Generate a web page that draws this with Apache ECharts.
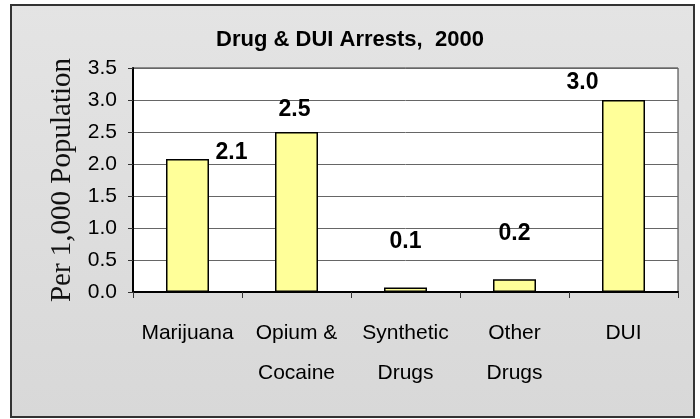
<!DOCTYPE html>
<html>
<head>
<meta charset="utf-8">
<script src="https://cdn.jsdelivr.net/npm/echarts@6/dist/echarts.min.js"></script>
<style>html,body{margin:0;padding:0;background:#fff}#c{width:700px;height:419px}</style>
</head>
<body>
<div id="c"></div>
<script>
const categories = ['Marijuana', 'Opium &\nCocaine', 'Synthetic\nDrugs', 'Other\nDrugs', 'DUI'];
const values = [2.08, 2.5, 0.07, 0.2, 3.0];
const yTicks = [0, 0.5, 1, 1.5, 2, 2.5, 3, 3.5];
const titleText = 'Drug & DUI Arrests,  2000';
const yName = 'Per 1,000 Population';

const narrow = '"Liberation Sans Narrow", "Arial Narrow", "Liberation Sans", Arial, sans-serif';
const labelOffsets = [[44, 10], [-2, -6], [0, -29], [0, -29], [-41, -1]];

const chart = echarts.init(document.getElementById('c'));
chart.setOption({
  backgroundColor: '#ffffff',
  animation: false,
  graphic: [{
    type: 'rect', z: -10, silent: true,
    shape: { x: 11, y: 5, width: 683, height: 412 },
    style: {
      fill: new echarts.graphic.LinearGradient(0, 0, 0, 1, [
        { offset: 0, color: '#e4e4e4' }, { offset: 1, color: '#d8d8d8' }
      ]),
      stroke: '#333', lineWidth: 2
    }
  }],
  title: {
    text: titleText, left: 'center', top: 24,
    textStyle: { fontFamily: narrow, fontWeight: 'bold', fontSize: 22, color: '#000' }
  },
  grid: { left: 133, right: 22, top: 68, bottom: 127, show: true, backgroundColor: '#fff', borderColor: '#333', borderWidth: 1 },
  xAxis: {
    type: 'category', data: categories,
    axisLine: { lineStyle: { color: '#000', width: 2 } },
    axisTick: { show: true, length: 6, alignWithLabel: false, lineStyle: { color: '#333', width: 1 } },
    axisLabel: { fontFamily: narrow, fontSize: 21, color: '#000', lineHeight: 40, margin: 21, interval: 0 }
  },
  yAxis: {
    type: 'value', min: 0, max: 3.5, interval: 0.5,
    name: yName, nameLocation: 'middle', nameGap: 56, nameRotate: 90,
    nameTextStyle: { fontFamily: '"Liberation Serif", "Times New Roman", serif', fontSize: 29, color: '#111' },
    axisLine: { show: true, lineStyle: { color: '#000', width: 2 } },
    axisTick: { show: true, length: 5, lineStyle: { color: '#333' } },
    splitLine: { lineStyle: { color: '#666', width: 1 } },
    axisLabel: {
      fontFamily: narrow, fontSize: 21, color: '#000', margin: 16,
      formatter: v => (yTicks.includes(v) ? v.toFixed(1) : '')
    }
  },
  series: [{
    type: 'bar', barWidth: 43,
    data: values.map((v, i) => ({
      value: v,
      label: { offset: labelOffsets[i] }
    })),
    itemStyle: { color: '#ffff99', borderColor: '#000', borderWidth: 1.5 },
    label: {
      show: true, position: 'top', distance: 5,
      fontFamily: narrow, fontWeight: 'bold', fontSize: 23, color: '#000',
      formatter: p => p.value.toFixed(1)
    }
  }]
});
</script>
</body>
</html>
